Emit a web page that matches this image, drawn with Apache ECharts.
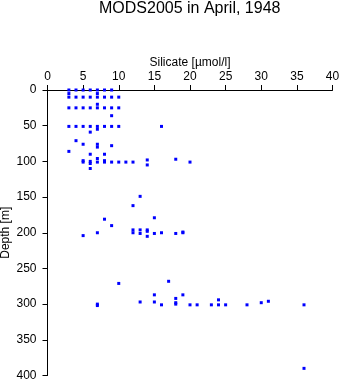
<!DOCTYPE html>
<html>
<head>
<meta charset="utf-8">
<script src="https://cdn.jsdelivr.net/npm/echarts@6/dist/echarts.min.js"></script>
<style>
  html, body { margin: 0; padding: 0; background: #fff; }
  #chart { width: 341px; height: 384px; }
</style>
</head>
<body>
<div id="chart"></div>
<script>
// Silicate profile samples: silicate [µmol/l] paired with depth [m]
const silicate = [
  3, 4, 5, 6, 7, 8, 9,
  3, 7,
  3, 4, 5, 6, 7, 8, 9, 10,
  7,
  3, 4, 5, 6, 7, 8, 9, 10,
  9,
  3, 4, 5, 6, 7, 8, 9, 10, 16,
  7, 6, 4, 5, 7, 7, 9, 3, 6, 8, 7, 18,
  5, 5, 6, 6, 7, 8, 8, 9, 10, 11, 12, 14, 14, 20,
  6,
  13, 12, 15, 8, 9,
  12, 12, 13, 13, 14, 14, 14, 15, 16, 18, 19, 19, 5, 7,
  10, 17,
  15, 19, 13, 15, 18, 18, 18, 7, 7,
  16, 20, 21, 23, 24, 24, 25, 28, 30, 31, 36,
  36
];
const depth = [
  0, 0, 0, 0, 0, 0, 0,
  5, 5,
  10, 10, 10, 10, 10, 10, 10, 10,
  20,
  25, 25, 25, 25, 25, 25, 25, 25,
  36,
  51, 51, 51, 51, 51, 51, 51, 51, 51,
  55, 59, 71, 76, 76, 80, 78, 86, 90, 90, 96, 97,
  99, 101, 100, 103, 101, 99, 101, 101, 101, 101, 101, 98, 105, 101,
  110,
  149, 162, 179, 181, 190,
  196, 200, 196, 201, 196, 198, 205, 201, 200, 201, 199, 200, 204, 200,
  271, 268,
  287, 287, 297, 297, 292, 298, 300, 300, 302,
  301, 301, 301, 301, 294, 301, 301, 301, 298, 296, 301,
  390
];
const silicateTicks = [0, 5, 10, 15, 20, 25, 30, 35, 40];
const depthTicks = [0, 50, 100, 150, 200, 250, 300, 350, 400];

const points = silicate.map((s, i) => [s, depth[i]]);

const font = 'Liberation Sans, Arial, Helvetica, sans-serif';
const chart = echarts.init(document.getElementById('chart'), null, { renderer: 'canvas' });

chart.setOption({
  animation: false,
  backgroundColor: '#ffffff',
  title: {
    text: 'MODS2005 in April, 1948',
    left: 99,
    top: 1,
    padding: 0,
    textStyle: { fontFamily: font, fontSize: 16, fontWeight: 'normal', color: '#000' }
  },
  grid: { left: 47.5, right: 8.5, top: 90, bottom: 8.5, containLabel: false, outerBoundsMode: 'none' },
  xAxis: {
    type: 'value',
    position: 'top',
    min: silicateTicks[0],
    max: silicateTicks[silicateTicks.length - 1],
    interval: silicateTicks[1] - silicateTicks[0],
    name: 'Silicate [µmol/l]',
    nameLocation: 'middle',
    nameGap: 21,
    nameMoveOverlap: false,
    nameTextStyle: { fontFamily: font, fontSize: 12, color: '#000' },
    axisLine: { show: true, onZero: false, lineStyle: { color: '#000', width: 1 } },
    axisTick: { show: true, length: 5, inside: false, lineStyle: { color: '#000' } },
    axisLabel: { margin: 7, fontFamily: font, fontSize: 12, color: '#000' },
    splitLine: { show: false }
  },
  yAxis: {
    type: 'value',
    inverse: true,
    min: depthTicks[0],
    max: depthTicks[depthTicks.length - 1],
    interval: depthTicks[1] - depthTicks[0],
    name: 'Depth [m]',
    nameLocation: 'middle',
    nameGap: 36,
    nameRotate: 90,
    nameMoveOverlap: false,
    nameTextStyle: { fontFamily: font, fontSize: 12, color: '#000' },
    axisLine: { show: true, onZero: false, lineStyle: { color: '#000', width: 1 } },
    axisTick: { show: true, length: 5, inside: false, lineStyle: { color: '#000' } },
    axisLabel: { margin: 11, fontFamily: font, fontSize: 12, color: '#000' },
    splitLine: { show: false }
  },
  series: [{
    type: 'scatter',
    data: points,
    symbol: 'rect',
    symbolSize: 3,
    itemStyle: { color: '#0000ff', opacity: 1 },
    emphasis: { disabled: true }
  }]
});
</script>
</body>
</html>
